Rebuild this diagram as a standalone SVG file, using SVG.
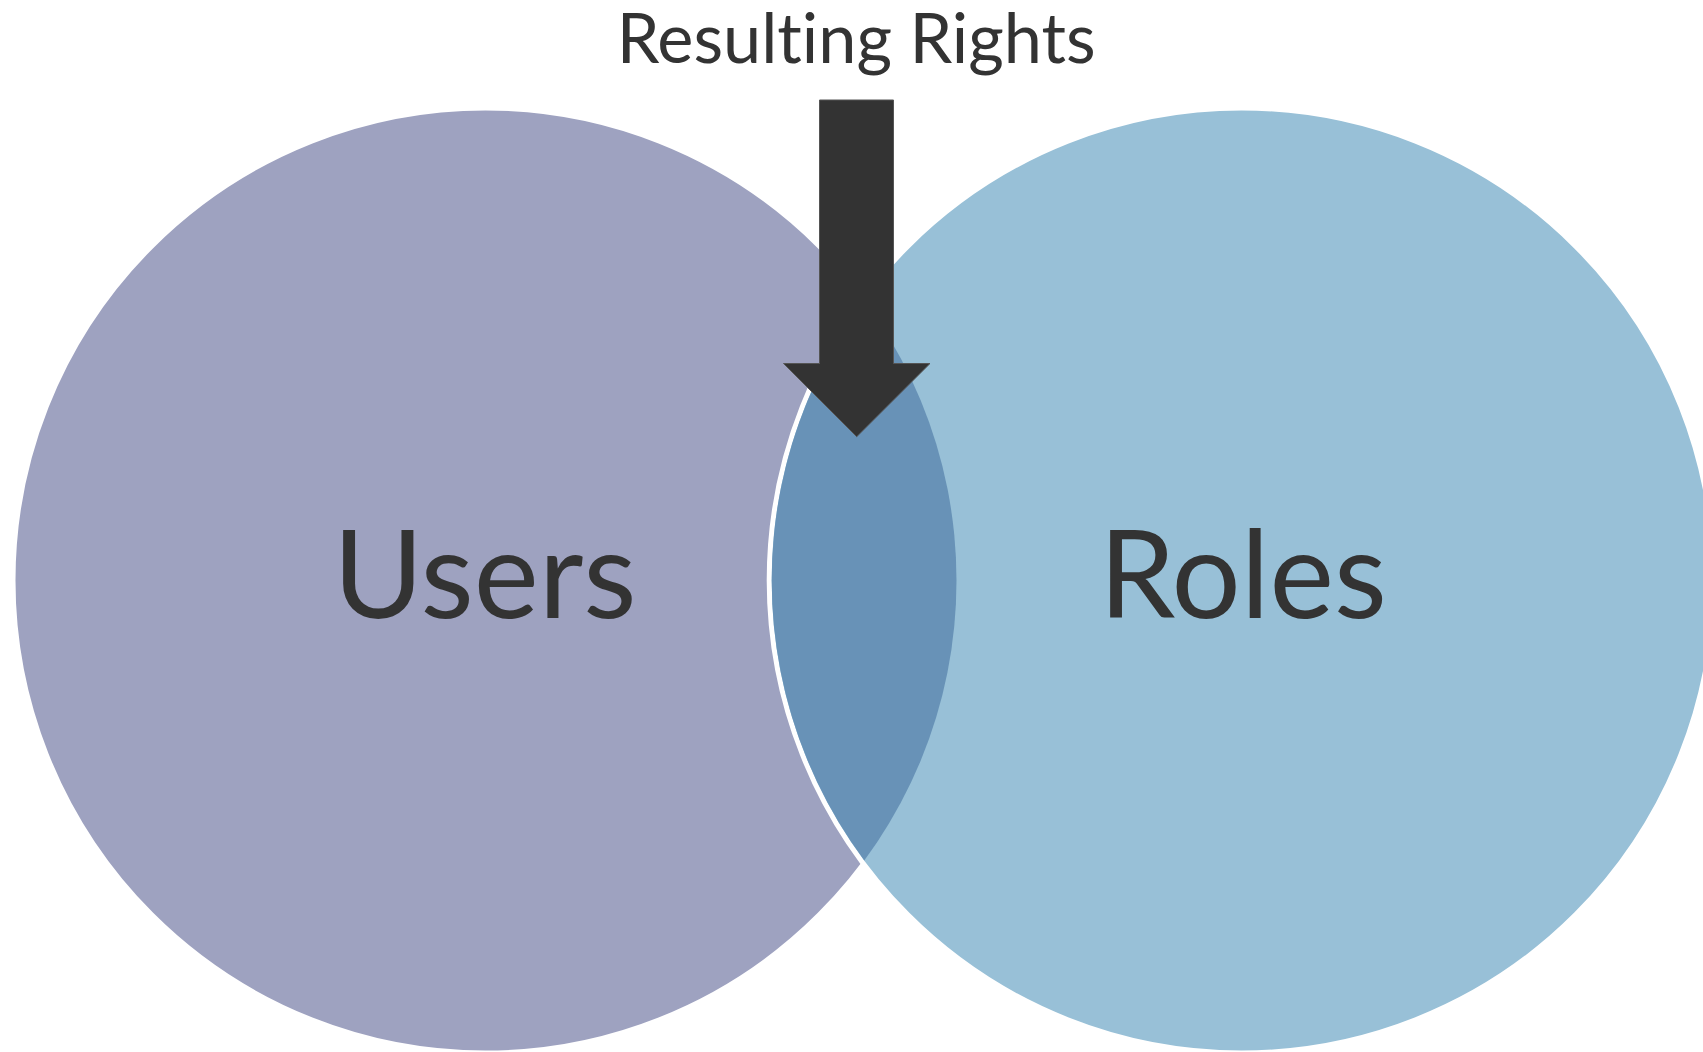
<svg xmlns="http://www.w3.org/2000/svg" width="1703" height="1052" viewBox="0 0 1703 1052">
  <style>
    .label { font-family: Lato, "Open Sans", "Liberation Sans", sans-serif; fill: #333333; font-variant-ligatures: none; font-feature-settings: "liga" 0, "clig" 0, "dlig" 0; }
    .ring { stroke: #ffffff; stroke-width: 5; }
    .arrow { fill: #333333; stroke: #555555; stroke-width: 1; }
  </style>
  <defs>
    <!-- area of the Users circle, used to cut out the shared region -->
    <clipPath id="users-area">
      <circle cx="485.5" cy="580.5" r="471"/>
    </clipPath>
  </defs>

  <rect width="1703" height="1052" fill="#ffffff"/>

  <g id="node-users">
    <circle class="ring" cx="485.5" cy="580.5" r="472.5" fill="#9EA2C0"/>
  </g>

  <g id="node-roles">
    <circle class="ring" cx="1241.7" cy="580.5" r="472.5" fill="#98C0D7"/>
  </g>

  <g id="node-overlap">
    <circle cx="1241.7" cy="580.5" r="470" fill="#6892B7" clip-path="url(#users-area)"/>
  </g>

  <g id="labels">
    <text class="label" x="333" y="618.3" font-size="122" textLength="303.5" lengthAdjust="spacingAndGlyphs">Users</text>
    <text class="label" x="1099" y="618.3" font-size="122" textLength="288" lengthAdjust="spacingAndGlyphs">Roles</text>
  </g>

  <g id="node-title">
    <text class="label" x="616.7" y="63.3" font-size="70" textLength="479" lengthAdjust="spacingAndGlyphs">Resulting Rights</text>
  </g>

  <g id="connectors">
    <polygon class="arrow" points="819.5,100 893.5,100 893.5,363.5 930,363.5 856.7,436.7 783.5,363.5 819.5,363.5"/>
  </g>
</svg>
